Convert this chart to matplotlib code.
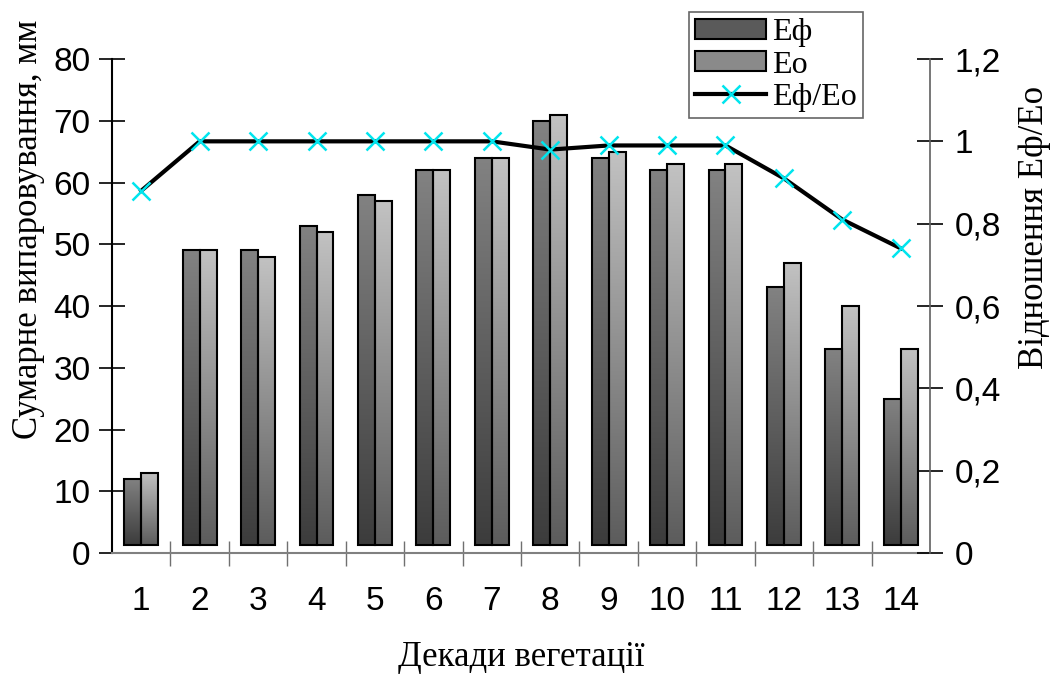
import numpy as np
import matplotlib
matplotlib.use("Agg")
import matplotlib.pyplot as plt
from matplotlib.patches import Patch
from matplotlib.lines import Line2D
from matplotlib.colors import LinearSegmentedColormap

# дані
dekady = np.arange(1, 15)
E_f = [12, 49, 49, 53, 58, 62, 64, 70, 64, 62, 62, 43, 33, 25]
E_o = [13, 49, 48, 52, 57, 62, 64, 71, 65, 63, 63, 47, 40, 33]
vidn = [0.88, 1.0, 1.0, 1.0, 1.0, 1.0, 1.0, 0.98, 0.99, 0.99, 0.99, 0.91, 0.81, 0.74]
y_ticks = [0, 10, 20, 30, 40, 50, 60, 70, 80]
r_ticks = [0, 0.2, 0.4, 0.6, 0.8, 1.0, 1.2]
r_labels = ["0", "0,2", "0,4", "0,6", "0,8", "1", "1,2"]

serif = "Liberation Serif"
sans = "Liberation Sans"

fig = plt.figure(figsize=(10.5, 6.91), dpi=100)
ax = fig.add_axes([0.1067, 0.1997, 0.779, 0.7149])

cm_f = LinearSegmentedColormap.from_list("f", ["#3c3c3c", "#828282"])
cm_o = LinearSegmentedColormap.from_list("o", ["#5c5c5c", "#c2c2c2"])
grad = np.linspace(0, 1, 256).reshape(-1, 1)

w = 0.29
base = 1.3
for x, vf, vo in zip(dekady, E_f, E_o):
    for xx, v, cm in ((x - w / 2, vf, cm_f), (x + w / 2, vo, cm_o)):
        ax.imshow(grad, cmap=cm, origin="lower", aspect="auto",
                  extent=(xx - w / 2, xx + w / 2, base, v), zorder=2)
ax.bar(dekady - w / 2, np.array(E_f) - base, w, bottom=base, facecolor="none",
       edgecolor="black", linewidth=1.5, zorder=3)
ax.bar(dekady + w / 2, np.array(E_o) - base, w, bottom=base, facecolor="none",
       edgecolor="black", linewidth=1.5, zorder=3)

ax.set_xlim(0.5, 14.5)
ax.set_ylim(0, 80)
ax.set_yticks(y_ticks)
ax.set_yticklabels([str(t) for t in y_ticks], fontfamily=sans, fontsize=24)
ax.set_xticks(np.arange(1.5, 14.5, 1))
ax.set_xticklabels([])
ax.set_xticks(dekady, minor=True)
ax.set_xticklabels([str(d) for d in dekady], minor=True, fontfamily=sans, fontsize=24)
ax.tick_params(axis="x", which="major", direction="inout", length=18, width=1, color="#707070")
ax.tick_params(axis="x", which="minor", length=0, pad=24)
ax.tick_params(axis="y", direction="inout", length=19, width=1.2, pad=6)
for s in ("top", "right"):
    ax.spines[s].set_visible(False)
ax.spines["bottom"].set_color("#808080")
ax.spines["bottom"].set_linewidth(1.5)
ax.spines["left"].set_linewidth(1.5)
ax.set_ylabel("Сумарне випаровування, мм", fontfamily=serif, fontsize=25)
ax.yaxis.set_label_coords(-0.082, 0.655)
ax.set_xlabel("Декади вегетації", fontfamily=serif, fontsize=25, labelpad=17)

ax2 = ax.twinx()
ax2.plot(dekady, vidn, color="black", linewidth=3, marker="x", markersize=13,
         markeredgecolor="#00e5ee", markeredgewidth=1.8, zorder=4)
ax2.set_ylim(0, 1.2)
ax2.set_yticks(r_ticks)
ax2.set_yticklabels(r_labels, fontfamily=sans, fontsize=24)
ax2.tick_params(axis="y", direction="inout", length=19, width=1.2, pad=8)
for s in ("top", "left", "bottom"):
    ax2.spines[s].set_visible(False)
ax2.spines["right"].set_color("#606060")
ax2.spines["right"].set_linewidth(1.2)
ax2.set_ylabel("Відношення Еф/Ео", fontfamily=serif, fontsize=25)
ax2.yaxis.set_label_coords(1.108, 0.66)

handles = [Patch(facecolor="#5a5a5a", edgecolor="black", linewidth=1.5),
           Patch(facecolor="#8a8a8a", edgecolor="black", linewidth=1.5),
           Line2D([], [], color="black", linewidth=3, marker="x", markersize=13,
                  markeredgecolor="#00e5ee", markeredgewidth=1.8)]
leg = fig.legend(handles, ["Еф", "Ео", "Еф/Ео"], loc="upper left",
                 bbox_to_anchor=(689 / 1050, 1 - 12 / 691), prop={"family": serif, "size": 23},
                 frameon=True, fancybox=False, edgecolor="#404040", borderpad=0.2,
                 handlelength=2.2, handleheight=0.6, labelspacing=0.1, handletextpad=0.2,
                 borderaxespad=0)
leg.get_frame().set_linewidth(1.2)

fig.savefig("out.png", dpi=100)
